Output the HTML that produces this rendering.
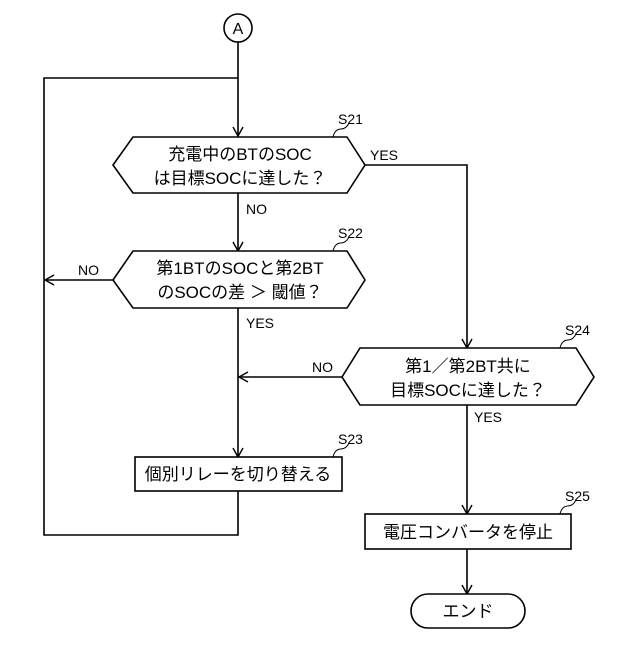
<!DOCTYPE html>
<html><head><meta charset="utf-8"><style>
body{margin:0;background:#fff}
text{font-family:"Liberation Sans","Noto Sans CJK JP",sans-serif;fill:#000}
</style></head><body>
<svg width="640" height="640" viewBox="0 0 640 640" xmlns="http://www.w3.org/2000/svg">
<defs><marker id="a" markerWidth="12" markerHeight="12" refX="10" refY="6" orient="auto" markerUnits="userSpaceOnUse"><path d="M1,1 L10,6 L1,11" fill="none" stroke="#000" stroke-width="1.4"/></marker></defs>
<g stroke="#000" stroke-width="1.6" fill="none">
<circle cx="238" cy="28" r="14"/>
<line x1="238" y1="42" x2="238" y2="136" marker-end="url(#a)"/>
<polyline points="238,78 44,78 44,535 238,535 238,491"/>
<polygon points="113,165 133,137 347,137 365,165 347,193 133,193" fill="#fff"/>
<line x1="238" y1="193" x2="238" y2="251" marker-end="url(#a)"/>
<polygon points="113,280 133,251 347,251 365,280 347,308 133,308" fill="#fff"/>
<line x1="113" y1="280" x2="45" y2="280" marker-end="url(#a)"/>
<line x1="238" y1="308" x2="238" y2="457" marker-end="url(#a)"/>
<polyline points="365,165 467,165 467,348" marker-end="url(#a)"/>
<polygon points="342,377 360,348 576,348 594,377 576,405 360,405" fill="#fff"/>
<line x1="342" y1="377" x2="239" y2="377" marker-end="url(#a)"/>
<line x1="467" y1="405" x2="467" y2="514" marker-end="url(#a)"/>
<rect x="135" y="457" width="207" height="34" fill="#fff"/>
<rect x="365" y="514" width="206" height="35" fill="#fff"/>
<line x1="467" y1="549" x2="467" y2="594" marker-end="url(#a)"/>
<rect x="411" y="594" width="114" height="34" rx="17" fill="#fff"/>
<g stroke-width="1">
<path d="M333,137 q2,-8 8,-8 q5,0 8,-6"/>
<path d="M333,251 q2,-8 8,-8 q5,0 8,-6"/>
<path d="M333,457 q2,-8 8,-8 q5,0 8,-6"/>
<path d="M560,348 q2,-8 8,-8 q5,0 8,-6"/>
<path d="M560,514 q2,-8 8,-8 q5,0 8,-6"/>
</g>
</g>
<text x="238" y="34" font-size="16" text-anchor="middle">A</text>
<g font-size="14">
<text x="338" y="124">S21</text>
<text x="338" y="238">S22</text>
<text x="338" y="444">S23</text>
<text x="565" y="335">S24</text>
<text x="565" y="501">S25</text>
<text x="370" y="160">YES</text>
<text x="246" y="214">NO</text>
<text x="78" y="275">NO</text>
<text x="246" y="328">YES</text>
<text x="312" y="372">NO</text>
<text x="474" y="422">YES</text>
</g>
<g font-size="17" text-anchor="middle">
<text x="240" y="160">充電中のBTのSOC</text>
<text x="240" y="184">は目標SOCに達した？</text>
<text x="240" y="274">第1BTのSOCと第2BT</text>
<text x="240" y="298">のSOCの差 ＞ 閾値？</text>
<text x="468" y="372">第1／第2BT共に</text>
<text x="468" y="396">目標SOCに達した？</text>
<text x="238" y="480">個別リレーを切り替える</text>
<text x="468" y="538">電圧コンバータを停止</text>
<text x="468" y="617">エンド</text>
</g>
</svg>
</body></html>
